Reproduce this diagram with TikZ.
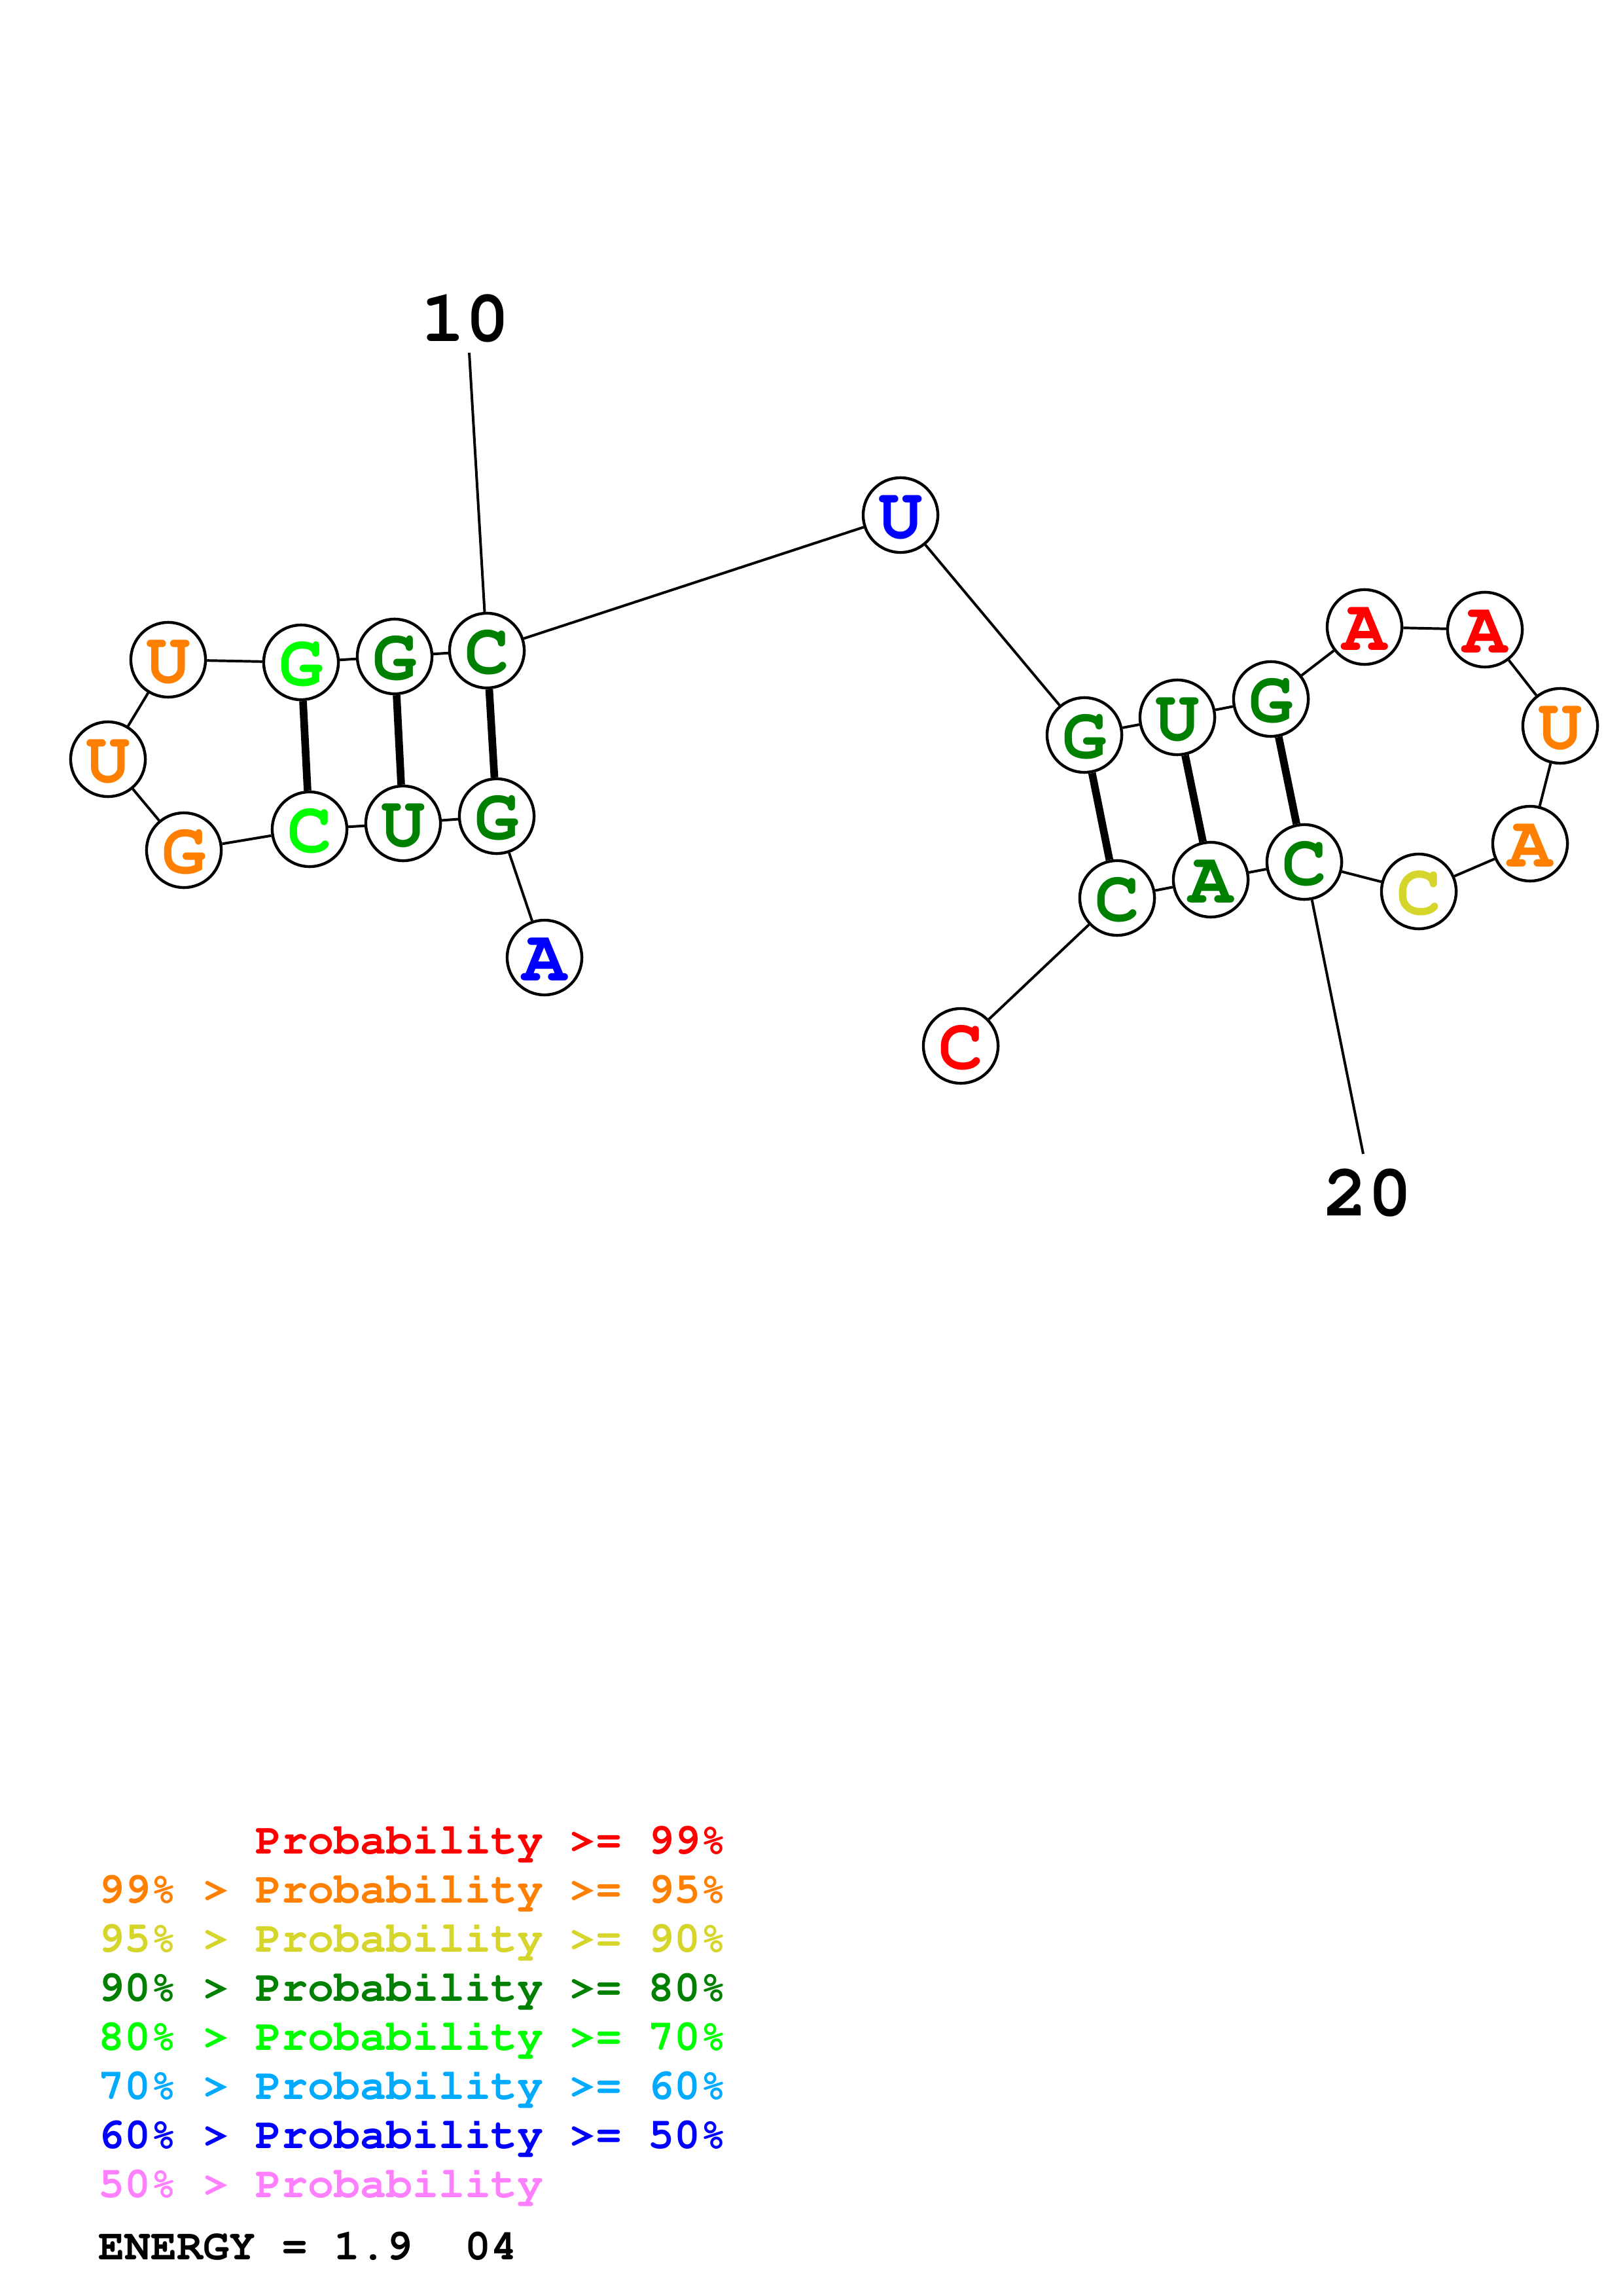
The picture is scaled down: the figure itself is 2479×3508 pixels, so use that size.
\documentclass[tikz,border=0pt]{standalone}
\usepackage[T1,TU]{fontenc}
\newcommand\crb{\fontencoding{T1}\fontfamily{pcr}\fontseries{b}\fontshape{n}\selectfont}
\definecolor{pr}{RGB}{255,0,0}
\definecolor{po}{RGB}{255,128,0}
\definecolor{py}{RGB}{213,213,43}
\definecolor{pdg}{RGB}{0,128,0}
\definecolor{pg}{RGB}{0,255,0}
\definecolor{plb}{RGB}{0,170,255}
\definecolor{pb}{RGB}{0,0,255}
\definecolor{pp}{RGB}{255,128,255}
\begin{document}
\begin{tikzpicture}[x=0.24pt,y=-0.24pt,
  nt/.style={circle,draw=black,fill=white,line width=1.05pt,minimum size=27.4pt,inner sep=0pt,
    font=\crb\fontsize{27}{27}\selectfont,text height=17pt,text depth=0pt},
  bb/.style={line width=0.95pt},
  bp/.style={line width=2.8pt},
  num/.style={inner sep=0pt,font=\crb\fontsize{27}{27}\selectfont},
  leg/.style={anchor=base west,inner sep=0pt,font=\crb\fontsize{16}{16}\selectfont}]
\path[use as bounding box,fill=white] (0,0) rectangle (2479,3508);
\coordinate (l10) at (717,539);
\coordinate (l20) at (2083,1763);
% nodes
\node[nt,text=pb]  (n1)  at (832,1463) {A};
\node[nt,text=pdg] (n2)  at (759,1247) {G};
\node[nt,text=pdg] (n3)  at (616,1258) {U};
\node[nt,text=pg]  (n4)  at (473,1267) {C};
\node[nt,text=po]  (n5)  at (281,1299) {G};
\node[nt,text=po]  (n6)  at (165,1160) {U};
\node[nt,text=po]  (n7)  at (257,1008) {U};
\node[nt,text=pg]  (n8)  at (460,1012) {G};
\node[nt,text=pdg] (n9)  at (603,1003) {G};
\node[nt,text=pdg] (n10) at (744,994) {C};
\node[nt,text=pb]  (n11) at (1376,787) {U};
\node[nt,text=pdg] (n12) at (1657,1123) {G};
\node[nt,text=pdg] (n13) at (1799,1096) {U};
\node[nt,text=pdg] (n14) at (1942,1068) {G};
\node[nt,text=pr]  (n15) at (2085,958) {A};
\node[nt,text=pr]  (n16) at (2269,962) {A};
\node[nt,text=po]  (n17) at (2384,1109) {U};
\node[nt,text=po]  (n18) at (2338,1289) {A};
\node[nt,text=py]  (n19) at (2168,1362) {C};
\node[nt,text=pdg] (n20) at (1993,1317) {C};
\node[nt,text=pdg] (n21) at (1850,1344) {A};
\node[nt,text=pdg] (n22) at (1707,1372) {C};
\node[nt,text=pr]  (n23) at (1468,1598) {C};
% backbone
\foreach \a/\b in {1/2,2/3,3/4,4/5,5/6,6/7,7/8,8/9,9/10,10/11,11/12,12/13,13/14,14/15,15/16,16/17,17/18,18/19,19/20,20/21,21/22,22/23}
  \draw[bb] (n\a) -- (n\b);
% pairs
\foreach \a/\b in {2/10,3/9,4/8,12/22,13/21,14/20}
  \draw[bp] (n\a) -- (n\b);
% number labels
\node[num] (t10) at (711,487) {10};
\node[num] (t20) at (2090,1823) {20};
\draw[bb] (l10) -- (n10);
\draw[bb] (l20) -- (n20);
% legend
\node[leg,text=pr]  (leg1) at (150,2832) {\phantom{99\% > }Probability >= 99\%};
\node[leg,text=po]  (leg2) at (150,2907) {99\% > Probability >= 95\%};
\node[leg,text=py]  (leg3) at (150,2982) {95\% > Probability >= 90\%};
\node[leg,text=pdg] (leg4) at (150,3057) {90\% > Probability >= 80\%};
\node[leg,text=pg]  (leg5) at (150,3132) {80\% > Probability >= 70\%};
\node[leg,text=plb] (leg6) at (150,3207) {70\% > Probability >= 60\%};
\node[leg,text=pb]  (leg7) at (150,3282) {60\% > Probability >= 50\%};
\node[leg,text=pp]  (leg8) at (150,3357) {50\% > Probability};
\node[leg,text=black] (energy) at (150,3452) {ENERGY = 1.9\ \ 04};
\end{tikzpicture}
\end{document}
